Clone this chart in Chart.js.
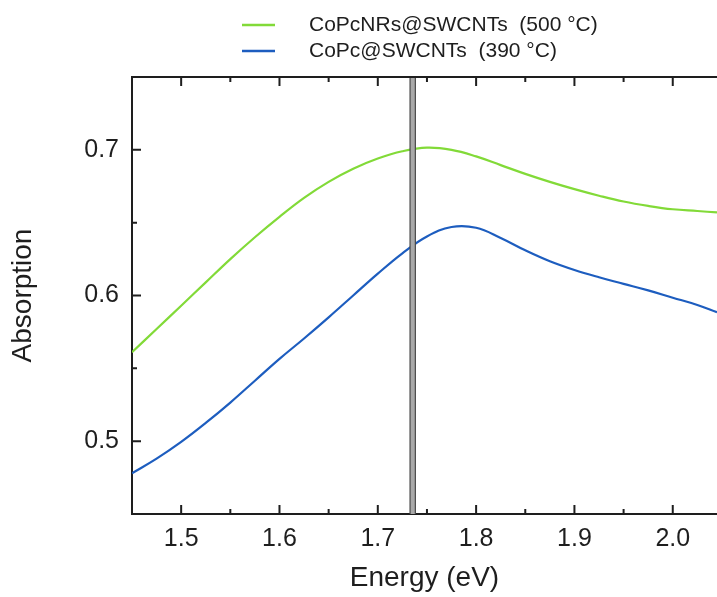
<!DOCTYPE html>
<html>

<head>
    <meta charset="utf-8">
    <script src="https://cdn.jsdelivr.net/npm/chart.js@4.4.1/dist/chart.umd.min.js"></script>
    <title>Absorption vs Energy</title>
    <style>
        body { margin: 0; background: #fff; }
    </style>
</head>

<body>

    <canvas id="abs-chart" width="717" height="597"></canvas>
    <script>
        // values
        const energy = [1.45, 1.475, 1.5, 1.525, 1.55, 1.575, 1.6, 1.625, 1.65, 1.675, 1.7, 1.725, 1.75, 1.775, 1.8, 1.825, 1.85, 1.875, 1.9, 1.925, 1.95, 1.975, 2.0, 2.025, 2.045];
        const nrsAbs = [0.561, 0.577, 0.593, 0.609, 0.625, 0.640, 0.654, 0.667, 0.678, 0.687, 0.694, 0.699, 0.7015, 0.700, 0.6955, 0.6895, 0.6835, 0.678, 0.673, 0.6685, 0.6645, 0.6615, 0.6592, 0.658, 0.657];
        const pcAbs = [0.478, 0.488, 0.4995, 0.5125, 0.5265, 0.5415, 0.5565, 0.5705, 0.585, 0.600, 0.615, 0.629, 0.6405, 0.647, 0.6465, 0.6395, 0.631, 0.6235, 0.6175, 0.6125, 0.608, 0.6035, 0.5985, 0.5935, 0.5885];
        const seriesNames = ['CoPcNRs@SWCNTs  (500 °C)', 'CoPc@SWCNTs  (390 °C)'];
        const seriesColors = ['#82da38', '#1d5dbf'];
        const xTicks = [1.5, 1.6, 1.7, 1.8, 1.9, 2.0];
        const yTicks = [0.5, 0.6, 0.7];
        const xMinor = [1.55, 1.65, 1.75, 1.85, 1.95];
        const yMinor = [0.55, 0.65];
        const markerEnergy = 1.7355;

        const ink = '#1e1e1e';
        const fontFam = '"Liberation Sans", Arial, sans-serif';

        function toPoints(ys) {
            return energy.map((x, i) => ({ x: x, y: ys[i] }));
        }

        // inward ticks, marker band and legend
        const decor = {
            id: 'decor',
            afterDatasetsDraw(chart) {
                const ctx = chart.ctx;
                const a = chart.chartArea;
                const xs = chart.scales.x, ys = chart.scales.y;

                // grey marker band
                const x0 = xs.getPixelForValue(markerEnergy - 0.0027);
                const x1 = xs.getPixelForValue(markerEnergy + 0.0027);
                ctx.save();
                ctx.fillStyle = '#a9a9a9';
                ctx.fillRect(x0, a.top, x1 - x0, a.bottom - a.top);
                ctx.strokeStyle = '#4a4a4a';
                ctx.lineWidth = 1.2;
                ctx.beginPath();
                ctx.moveTo(x0, a.top); ctx.lineTo(x0, a.bottom);
                ctx.moveTo(x1, a.top); ctx.lineTo(x1, a.bottom);
                ctx.stroke();

                // ticks
                ctx.strokeStyle = ink;
                ctx.lineWidth = 2;
                ctx.beginPath();
                const xt = (v, len) => {
                    const p = xs.getPixelForValue(v);
                    ctx.moveTo(p, a.bottom); ctx.lineTo(p, a.bottom - len);
                    ctx.moveTo(p, a.top); ctx.lineTo(p, a.top + len);
                };
                const yt = (v, len) => {
                    const p = ys.getPixelForValue(v);
                    ctx.moveTo(a.left, p); ctx.lineTo(a.left + len, p);
                };
                xTicks.forEach(v => xt(v, 9));
                xMinor.forEach(v => xt(v, 5));
                yTicks.forEach(v => yt(v, 9));
                yMinor.forEach(v => yt(v, 5));
                ctx.stroke();

                // top frame line
                ctx.beginPath();
                ctx.moveTo(a.left, a.top); ctx.lineTo(a.right, a.top);
                ctx.stroke();

                // legend
                ctx.font = '21px ' + fontFam;
                ctx.textBaseline = 'middle';
                ctx.fillStyle = ink;
                chart.data.datasets.forEach((ds, i) => {
                    const y = 25 + i * 26;
                    ctx.strokeStyle = ds.borderColor;
                    ctx.lineWidth = 2.5;
                    ctx.beginPath();
                    ctx.moveTo(242, y); ctx.lineTo(275, y);
                    ctx.stroke();
                    ctx.fillText(ds.label, 309, y);
                });
                ctx.restore();
            }
        };

        new Chart(document.getElementById('abs-chart'), {
            type: 'line',
            data: {
                datasets: [
                    { label: seriesNames[0], data: toPoints(nrsAbs), borderColor: seriesColors[0] },
                    { label: seriesNames[1], data: toPoints(pcAbs), borderColor: seriesColors[1] }
                ]
            },
            options: {
                responsive: false,
                animation: false,
                devicePixelRatio: 1,
                layout: { padding: { top: 77, right: 0, left: 0, bottom: 0 } },
                elements: {
                    point: { radius: 0 },
                    line: { borderWidth: 2.2, tension: 0.4 }
                },
                plugins: {
                    legend: { display: false },
                    tooltip: { enabled: false }
                },
                scales: {
                    x: {
                        type: 'linear',
                        min: 1.45,
                        max: 2.045,
                        grid: { display: false, drawTicks: false },
                        border: { display: true, color: ink, width: 2 },
                        afterBuildTicks: s => { s.ticks = xTicks.map(v => ({ value: v })); },
                        afterFit: s => { s.height = 83; },
                        ticks: {
                            autoSkip: false,
                            maxRotation: 0,
                            padding: 10,
                            color: ink,
                            font: { family: fontFam, size: 25 },
                            callback: v => v.toFixed(1)
                        },
                        title: {
                            display: true,
                            text: 'Energy (eV)',
                            color: ink,
                            font: { family: fontFam, size: 28 },
                            padding: { top: 0, bottom: 2 }
                        }
                    },
                    y: {
                        min: 0.45,
                        max: 0.75,
                        grid: { display: false, drawTicks: false },
                        border: { display: true, color: ink, width: 2 },
                        afterBuildTicks: s => { s.ticks = yTicks.map(v => ({ value: v })); },
                        afterFit: s => { s.width = 132; },
                        ticks: {
                            padding: 13,
                            color: ink,
                            font: { family: fontFam, size: 25 },
                            callback: v => v.toFixed(1)
                        },
                        title: {
                            display: true,
                            text: 'Absorption',
                            color: ink,
                            font: { family: fontFam, size: 28 },
                            padding: { top: 6, bottom: 0 }
                        }
                    }
                }
            },
            plugins: [decor]
        });
    </script>
</body>

</html>
